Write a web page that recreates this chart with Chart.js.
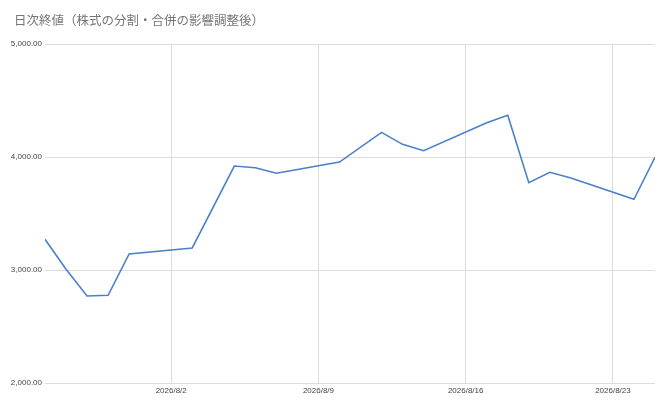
<!DOCTYPE html>
<html>
<head>
<meta charset="utf-8">
<script src="https://cdn.jsdelivr.net/npm/chart.js@4/dist/chart.umd.min.js"></script>
<style>
  html, body { margin: 0; padding: 0; background: #fff; }
  #wrap { width: 666px; height: 404px; }
</style>
</head>
<body>
<div id="wrap"><canvas id="chart"></canvas></div>
<script>
// trading days (gaps are weekends / days not visible as kinks)
const dates = ['2026-07-27', '2026-07-28', '2026-07-29', '2026-07-30', '2026-07-31',
  '2026-08-03', '2026-08-05', '2026-08-06', '2026-08-07',
  '2026-08-10', '2026-08-12', '2026-08-13', '2026-08-14',
  '2026-08-17', '2026-08-18', '2026-08-19', '2026-08-20', '2026-08-21',
  '2026-08-24', '2026-08-25'];
const closes = [3272, 3006, 2770, 2776, 3142,
  3195, 3920, 3905, 3856,
  3955, 4218, 4112, 4056,
  4304, 4369, 3773, 3865, 3814,
  3626, 3997];
const xTickDates = ['2026-08-02', '2026-08-09', '2026-08-16', '2026-08-23'];
const yTicks = [2000, 3000, 4000, 5000];
const title = '日次終値（株式の分割・合併の影響調整後）';

const DAY = 86400000;
const toDay = s => Date.parse(s + 'T00:00:00Z') / DAY;
const fmtDay = d => {
  const dt = new Date(d * DAY);
  return dt.getUTCFullYear() + '/' + (dt.getUTCMonth() + 1) + '/' + dt.getUTCDate();
};

const points = dates.map((d, i) => ({ x: toDay(d), y: closes[i] }));
const gridColor = '#dcdcdc';
const tickFont = { family: 'Arial, "Liberation Sans"', size: 8 };

// title sits left of the plot, not aligned with it, so draw it ourselves
const titlePlugin = {
  id: 'sheetTitle',
  afterDraw(chart) {
    const ctx = chart.ctx;
    ctx.save();
    ctx.font = '12.5px "Noto Sans CJK JP", "Noto Sans"';
    ctx.fillStyle = '#757575';
    ctx.textBaseline = 'middle';
    ctx.fillText(title, 14, 20);
    ctx.restore();
  }
};

new Chart(document.getElementById('chart'), {
  type: 'line',
  data: {
    datasets: [{
      data: points,
      borderColor: '#4a80c8',
      borderWidth: 1.6,
      pointRadius: 0,
      tension: 0,
      fill: false
    }]
  },
  options: {
    responsive: true,
    maintainAspectRatio: false,
    animation: false,
    layout: { padding: { left: 0, right: 11, top: 44, bottom: 0 } },
    plugins: {
      legend: { display: false },
      tooltip: { enabled: false },
      title: { display: false }
    },
    scales: {
      x: {
        type: 'linear',
        min: toDay(dates[0]),
        max: toDay(dates[dates.length - 1]),
        afterBuildTicks: axis => {
          axis.ticks = xTickDates.map(d => ({ value: toDay(d) }));
        },
        afterFit: axis => { axis.height = 21; },
        ticks: {
          callback: v => fmtDay(v),
          color: '#444',
          font: tickFont,
          maxRotation: 0,
          autoSkip: false,
          padding: 3
        },
        grid: { color: gridColor, drawTicks: false },
        border: { display: false }
      },
      y: {
        min: 2000,
        max: 5000,
        afterBuildTicks: axis => {
          axis.ticks = yTicks.map(v => ({ value: v }));
        },
        afterFit: axis => { axis.width = 45; },
        ticks: {
          callback: v => v.toLocaleString('en-US', { minimumFractionDigits: 2, maximumFractionDigits: 2 }),
          color: '#444',
          font: tickFont,
          padding: 3
        },
        grid: { color: gridColor, drawTicks: false },
        border: { display: false }
      }
    }
  },
  plugins: [titlePlugin]
});
</script>
</body>
</html>
